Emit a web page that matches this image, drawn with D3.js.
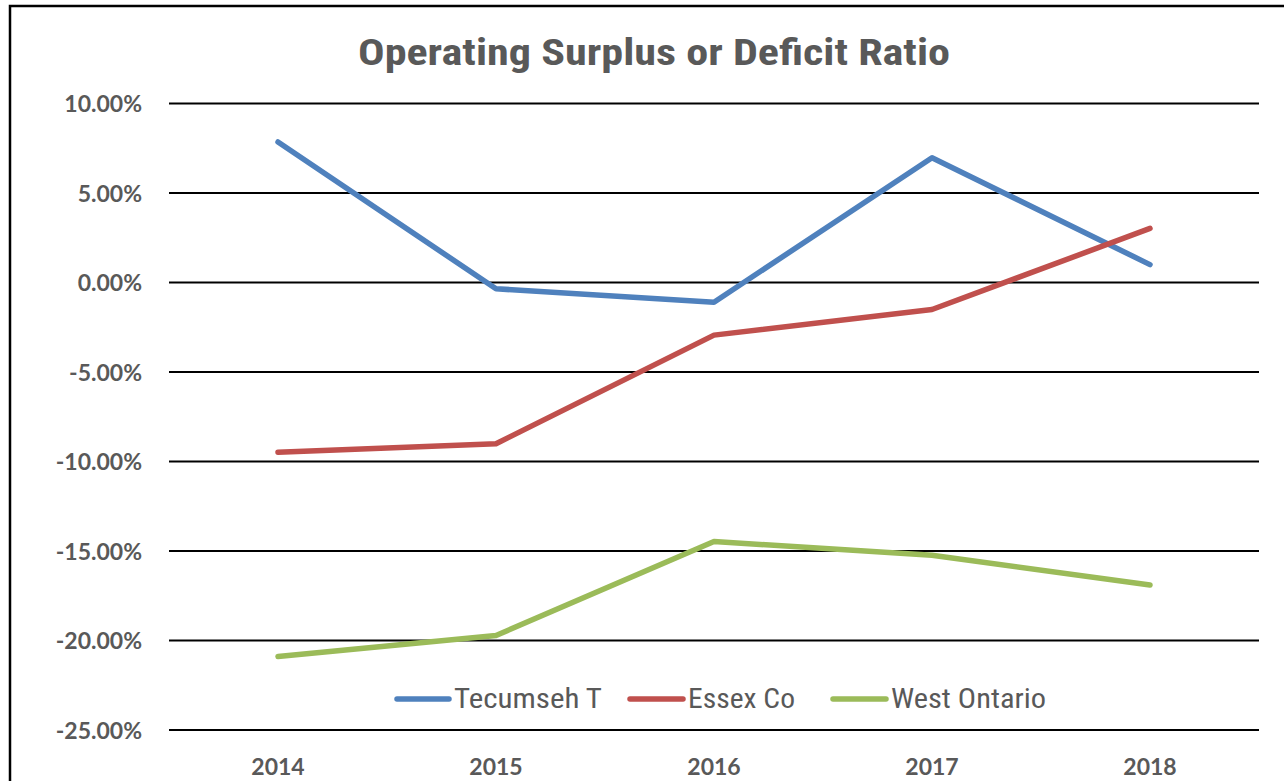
<!DOCTYPE html>
<html>
<head>
<meta charset="utf-8">
<script src="https://cdn.jsdelivr.net/npm/d3@7"></script>
<style>
  html, body { margin: 0; padding: 0; background: #fff; }
  svg { display: block; }
</style>
</head>
<body>
<svg id="chart" width="1284" height="781"></svg>
<script>
const years = ["2014", "2015", "2016", "2017", "2018"];
const tecumseh = [7.85, -0.35, -1.10, 6.97, 1.00];
const essex = [-9.48, -9.01, -2.94, -1.51, 3.02];
const westOntario = [-20.89, -19.72, -14.47, -15.24, -16.90];
const seriesNames = ["Tecumseh T", "Essex Co", "West Ontario"];
const seriesColors = ["#4F81BD", "#C0504D", "#9BBB59"];
const yTicks = [10, 5, 0, -5, -10, -15, -20, -25];
const title = "Operating Surplus or Deficit Ratio";

const series = [tecumseh, essex, westOntario];
const svg = d3.select("#chart");
const textColor = "#595959";

// outer border
svg.append("rect").attr("x", 10).attr("y", 6).attr("width", 1400).attr("height", 900)
  .attr("fill", "none").attr("stroke", "#000").attr("stroke-width", 2.5);

const plotLeft = 169, plotRight = 1259, plotTop = 103.5, plotBottom = 730;

const x = d3.scaleBand().domain(years).range([plotLeft, plotRight]).padding(0);
const y = d3.scaleLinear().domain([-25, 10]).range([plotBottom, plotTop]);

// gridlines
svg.append("g").selectAll("line").data(yTicks).join("line")
  .attr("x1", plotLeft).attr("x2", plotRight)
  .attr("y1", d => y(d)).attr("y2", d => y(d))
  .attr("stroke", "#000").attr("stroke-width", 2);

// y axis labels
const yAxis = d3.axisLeft(y).tickValues(yTicks).tickSize(0).tickPadding(0)
  .tickFormat(d => d.toFixed(2) + "%");
const gy = svg.append("g").attr("transform", `translate(142,0)`).call(yAxis);
gy.select(".domain").remove();
gy.selectAll("text").attr("fill", textColor)
  .style("font-family", "Lato, 'Open Sans', sans-serif")
  .style("font-weight", "bold").style("font-size", "23px")
  .attr("dy", "0.35em");

// x axis labels
const xAxis = d3.axisBottom(x).tickSize(0).tickPadding(0);
const gx = svg.append("g").attr("transform", `translate(0,758)`).call(xAxis);
gx.select(".domain").remove();
gx.selectAll("text").attr("fill", textColor)
  .style("font-family", "Lato, 'Open Sans', sans-serif")
  .style("font-weight", "bold").style("font-size", "23px")
  .attr("dy", "0.35em").attr("y", 9);

// lines
const line = d3.line().x((d, i) => x(years[i]) + x.bandwidth() / 2).y(d => y(d));
series.forEach((s, k) => {
  svg.append("path").datum(s).attr("d", line)
    .attr("fill", "none").attr("stroke", seriesColors[k])
    .attr("stroke-width", 5.5).attr("stroke-linecap", "round").attr("stroke-linejoin", "round");
});

// title
svg.append("text").attr("x", 654).attr("y", 65).attr("text-anchor", "middle")
  .attr("fill", textColor)
  .style("font-family", "'Liberation Sans Narrow', 'Roboto Condensed', sans-serif")
  .style("font-weight", "bold").style("font-size", "37px")
  .attr("textLength", 592).attr("lengthAdjust", "spacingAndGlyphs")
  .text(title);

// legend
const legendItems = [
  { lx1: 397, lx2: 449, tx: 454, tw: 148 },
  { lx1: 630, lx2: 683, tx: 688, tw: 107 },
  { lx1: 833, lx2: 886, tx: 891, tw: 155 }
];
const legend = svg.append("g");
seriesNames.forEach((name, k) => {
  const it = legendItems[k];
  legend.append("line").attr("x1", it.lx1).attr("x2", it.lx2).attr("y1", 699).attr("y2", 699)
    .attr("stroke", seriesColors[k]).attr("stroke-width", 5.5).attr("stroke-linecap", "round");
  legend.append("text").attr("x", it.tx).attr("y", 708).attr("fill", textColor)
    .style("font-family", "'Liberation Sans Narrow', 'Roboto Condensed', sans-serif")
    .style("font-size", "28px")
    .attr("textLength", it.tw).attr("lengthAdjust", "spacingAndGlyphs")
    .text(name);
});
</script>
</body>
</html>
